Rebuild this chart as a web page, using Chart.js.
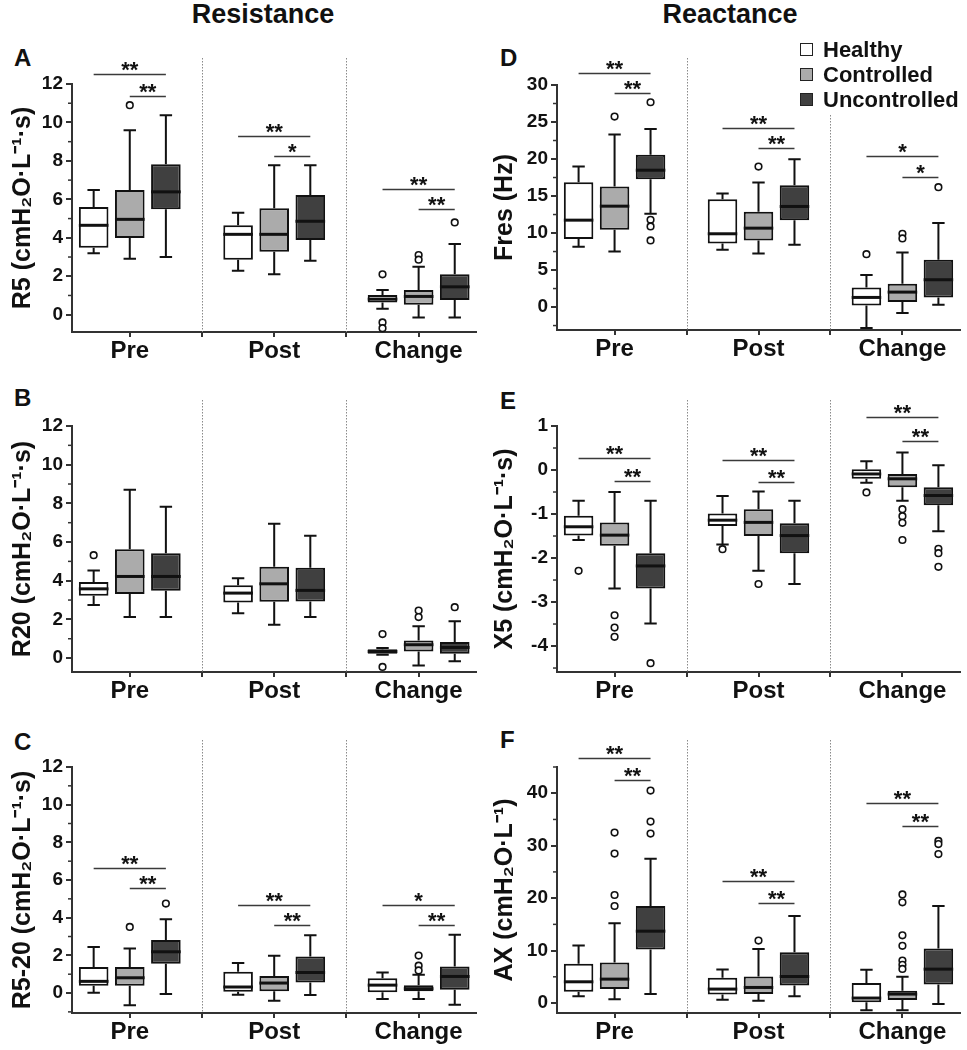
<!DOCTYPE html>
<html>
<head>
<meta charset="utf-8">
<script src="https://cdn.jsdelivr.net/npm/chart.js@4.4.0/dist/chart.umd.min.js"></script>
<style>
  body { margin: 0; background: #fff; font-family: "Liberation Sans", Arial, sans-serif; color: #111; }
  #page { position: relative; width: 967px; height: 1050px; overflow: hidden; }
  canvas { position: absolute; }
  .head { position: absolute; top: 1px; width: 240px; text-align: center; font-weight: bold; font-size: 27px; line-height: 27px; }
  .letter { position: absolute; font-weight: bold; font-size: 24px; line-height: 24px; }
  .leg { position: absolute; left: 800px; font-weight: bold; font-size: 22px; line-height: 22px; }
  .leg span { position: absolute; left: 0; top: 4px; width: 11px; height: 11px; border: 1.5px solid #222; }
  .leg b { position: absolute; left: 23px; top: 0; white-space: nowrap; }
</style>
</head>
<body>
<div id="page">
  <div class="head" style="left:143px">Resistance</div>
  <div class="head" style="left:610px">Reactance</div>

  <div class="letter" style="left:14px;top:46px">A</div>
  <div class="letter" style="left:14px;top:386px">B</div>
  <div class="letter" style="left:14px;top:730px">C</div>
  <div class="letter" style="left:500px;top:46px">D</div>
  <div class="letter" style="left:500px;top:389px">E</div>
  <div class="letter" style="left:500px;top:728px">F</div>

  <canvas id="chartA" width="482" height="330" style="left:0;top:40px"></canvas>
  <canvas id="chartB" width="482" height="330" style="left:0;top:380px"></canvas>
  <canvas id="chartC" width="482" height="329" style="left:0;top:720px"></canvas>
  <canvas id="chartD" width="485" height="328" style="left:482px;top:40px"></canvas>
  <canvas id="chartE" width="485" height="330" style="left:482px;top:380px"></canvas>
  <canvas id="chartF" width="485" height="329" style="left:482px;top:720px"></canvas>

  <div class="leg" style="top:39px"><span style="background:#ffffff"></span><b>Healthy</b></div>
  <div class="leg" style="top:64px"><span style="background:#ababab"></span><b>Controlled</b></div>
  <div class="leg" style="top:89px"><span style="background:#404040"></span><b>Uncontrolled</b></div>
</div>
<script>
// ---- data ----
const phases = ['Pre', 'Post', 'Change'];
const groups = ['Healthy', 'Controlled', 'Uncontrolled'];
const groupFills = ['#ffffff', '#ababab', '#404040'];
const groupOffsets = [-0.25, 0, 0.25];

// each row: [lower whisker, Q1, median, Q3, upper whisker] for Pre, Post, Change
const r5Healthy = [[3.2, 3.48, 4.65, 5.6, 6.49], [2.29, 2.86, 4.18, 4.65, 5.3], [0.31, 0.64, 0.81, 1.02, 1.29]];
const r5Controlled = [[2.91, 3.99, 4.96, 6.49, 9.6], [2.1, 3.27, 4.18, 5.54, 7.78], [-0.15, 0.52, 0.95, 1.29, 2.5]];
const r5Uncontrolled = [[3.0, 5.49, 6.39, 7.83, 10.38], [2.81, 3.89, 4.86, 6.22, 7.78], [-0.15, 0.77, 1.45, 2.1, 3.68]];
// outliers: [phase, group, value]
const r5Outliers = [[0, 1, 10.9], [2, 0, 2.1], [2, 0, -0.4], [2, 0, -0.7], [2, 1, 3.1], [2, 1, 2.86], [2, 2, 4.8]];
// significance bars: [phase, from group, to group, height, label]
const r5Sig = [[0, 0, 2, 12.5, '**'], [0, 1, 2, 11.4, '**'], [1, 0, 2, 9.3, '**'], [1, 1, 2, 8.26, '*'], [2, 0, 2, 6.55, '**'], [2, 1, 2, 5.5, '**']];

const r20Healthy = [[2.74, 3.22, 3.58, 3.93, 4.53], [2.32, 2.88, 3.36, 3.77, 4.13], [0.17, 0.22, 0.34, 0.46, 0.52]];
const r20Controlled = [[2.13, 3.31, 4.22, 5.63, 8.71], [1.72, 2.91, 3.84, 4.72, 6.94], [-0.38, 0.34, 0.69, 0.91, 1.64]];
const r20Uncontrolled = [[2.13, 3.48, 4.22, 5.42, 7.82], [2.13, 2.93, 3.5, 4.67, 6.32], [-0.17, 0.22, 0.55, 0.83, 1.91]];
const r20Outliers = [[0, 0, 5.32], [2, 0, 1.24], [2, 0, -0.46], [2, 1, 2.46], [2, 1, 2.12], [2, 2, 2.63]];
const r20Sig = [];

const r520Healthy = [[0.02, 0.39, 0.62, 1.38, 2.45], [-0.09, 0.07, 0.32, 1.13, 1.59], [-0.32, 0.04, 0.42, 0.79, 1.09]];
const r520Controlled = [[-0.65, 0.39, 0.81, 1.38, 2.36], [-0.41, 0.09, 0.53, 0.9, 1.98], [-0.32, 0.09, 0.23, 0.41, 0.97]];
const r520Uncontrolled = [[-0.05, 1.55, 2.19, 2.82, 3.92], [-0.11, 0.56, 1.09, 1.94, 3.07], [-0.62, 0.18, 0.88, 1.41, 3.09]];
const r520Outliers = [[0, 1, 3.51], [0, 2, 4.75], [2, 1, 1.99], [2, 1, 1.45], [2, 1, 1.2]];
const r520Sig = [[0, 0, 2, 6.62, '**'], [0, 1, 2, 5.58, '**'], [1, 0, 2, 4.66, '**'], [1, 1, 2, 3.6, '**'], [2, 0, 2, 4.68, '*'], [2, 1, 2, 3.62, '**']];

const fresHealthy = [[8.14, 9.18, 11.74, 16.87, 18.98], [7.74, 8.59, 9.9, 14.57, 15.34], [-2.83, 0.22, 1.3, 2.65, 4.32]];
const fresControlled = [[7.51, 10.44, 13.63, 16.28, 23.3], [7.24, 9.0, 10.66, 12.87, 16.82], [-0.81, 0.67, 2.02, 3.15, 7.38]];
const fresUncontrolled = [[12.6, 17.27, 18.49, 20.56, 24.07], [8.41, 11.74, 13.59, 16.46, 19.97], [0.31, 1.3, 3.69, 6.39, 11.34]];
const fresOutliers = [[0, 1, 25.73], [0, 2, 27.67], [0, 2, 11.79], [0, 2, 10.89], [0, 2, 9.0], [1, 1, 18.98], [2, 0, 7.15], [2, 1, 9.9], [2, 1, 9.27], [2, 2, 16.19]];
const fresSig = [[0, 0, 2, 31.67, '**'], [0, 1, 2, 28.88, '**'], [1, 0, 2, 24.25, '**'], [1, 1, 2, 21.46, '**'], [2, 0, 2, 20.47, '*'], [2, 1, 2, 17.59, '*']];

const x5Healthy = [[-1.59, -1.49, -1.29, -1.04, -0.7], [-1.69, -1.27, -1.14, -0.99, -0.59], [-0.29, -0.2, -0.09, 0.02, 0.2]];
const x5Controlled = [[-2.69, -1.72, -1.48, -1.19, -0.5], [-2.29, -1.5, -1.19, -0.89, -0.49], [-0.7, -0.39, -0.2, -0.09, 0.4]];
const x5Uncontrolled = [[-3.49, -2.69, -2.18, -1.89, -0.7], [-2.59, -1.89, -1.49, -1.21, -0.7], [-1.39, -0.8, -0.58, -0.39, 0.11]];
const x5Outliers = [[0, 0, -2.29], [0, 1, -3.3], [0, 1, -3.58], [0, 1, -3.79], [0, 2, -4.39], [1, 0, -1.8], [1, 1, -2.59],
  [2, 0, -0.51], [2, 1, -0.89], [2, 1, -1.05], [2, 1, -1.2], [2, 1, -1.59], [2, 2, -1.79], [2, 2, -1.89], [2, 2, -2.2]];
const x5Sig = [[0, 0, 2, 0.27, '**'], [0, 1, 2, -0.24, '**'], [1, 0, 2, 0.23, '**'], [1, 1, 2, -0.28, '**'], [2, 0, 2, 1.2, '**'], [2, 1, 2, 0.66, '**']];

const axHealthy = [[1.27, 2.15, 4.05, 7.47, 10.95], [0.63, 1.65, 2.66, 4.81, 6.39], [-1.39, 0.13, 0.95, 3.8, 6.33]];
const axControlled = [[0.7, 2.66, 4.56, 7.72, 15.2], [0.44, 1.71, 2.97, 5.06, 10.3], [-1.39, 0.57, 1.71, 2.34, 5.0]];
const axUncontrolled = [[1.71, 10.2, 13.7, 18.5, 27.5], [1.27, 3.35, 5.06, 9.68, 16.6], [-0.19, 3.54, 6.46, 10.4, 18.5]];
const axOutliers = [[0, 1, 32.5], [0, 1, 28.5], [0, 1, 20.6], [0, 1, 18.5], [0, 2, 40.5], [0, 2, 34.6], [0, 2, 32.3], [1, 1, 11.9],
  [2, 1, 20.7], [2, 1, 19.2], [2, 1, 12.9], [2, 1, 10.9], [2, 1, 8.1], [2, 1, 7.3], [2, 1, 6.5], [2, 2, 30.9], [2, 2, 30.3], [2, 2, 28.4]];
const axSig = [[0, 0, 2, 46.7, '**'], [0, 1, 2, 42.5, '**'], [1, 0, 2, 23.3, '**'], [1, 1, 2, 19.0, '**'], [2, 0, 2, 38.2, '**'], [2, 1, 2, 33.8, '**']];

// y tick labels and axis ranges
const resistTicks = [0, 2, 4, 6, 8, 10, 12];
const fresTicks = [0, 5, 10, 15, 20, 25, 30];
const x5Ticks = [-4, -3, -2, -1, 0, 1];
const axTicks = [0, 10, 20, 30, 40];

Chart.defaults.font.family = '"Liberation Sans", Arial, sans-serif';
Chart.defaults.color = '#111';

const FONT = '"Liberation Sans", Arial, sans-serif';

// whiskers, medians, minor ticks, separators and significance bars
function boxExtras(cfg) {
    return {
        id: 'boxExtras',
        beforeDatasetsDraw(chart) {
            const { ctx, chartArea, scales: { x, y } } = chart;
            ctx.save();
            // dotted separators between Pre / Post / Change
            ctx.strokeStyle = '#8a8a8a';
            ctx.lineWidth = 1;
            ctx.setLineDash([1.5, 1.5]);
            [1.5, 2.5].forEach((v, i) => {
                const px = Math.round(x.getPixelForValue(v)) + 0.5;
                ctx.beginPath();
                ctx.moveTo(px, chartArea.top + cfg.sepStart[i]);
                ctx.lineTo(px, chartArea.bottom);
                ctx.stroke();
            });
            ctx.setLineDash([]);
            // minor y ticks
            ctx.strokeStyle = '#333';
            ctx.lineWidth = 1.5;
            const start = Math.ceil(y.min / cfg.minor - 1e-9) * cfg.minor;
            for (let v = start; v <= y.max + 1e-9; v += cfg.minor) {
                if (cfg.ticks.some(t => Math.abs(t - v) < 1e-6)) continue;
                const py = y.getPixelForValue(v);
                ctx.beginPath();
                ctx.moveTo(chartArea.left - 4, py);
                ctx.lineTo(chartArea.left, py);
                ctx.stroke();
            }
            ctx.restore();
        },
        afterDatasetsDraw(chart) {
            const { ctx, scales: { y } } = chart;
            ctx.save();
            ctx.strokeStyle = '#111';
            cfg.stats.forEach((rows, k) => {
                const meta = chart.getDatasetMeta(k);
                rows.forEach((s, i) => {
                    const el = meta.data[i];
                    const cx = el.x;
                    const cap = el.width * 0.42;
                    const [lo, q1, med, q3, hi] = s.map(v => y.getPixelForValue(v));
                    ctx.lineWidth = 2;
                    ctx.beginPath();
                    ctx.moveTo(cx, q3); ctx.lineTo(cx, hi);
                    ctx.moveTo(cx - cap / 2, hi); ctx.lineTo(cx + cap / 2, hi);
                    ctx.moveTo(cx, q1); ctx.lineTo(cx, lo);
                    ctx.moveTo(cx - cap / 2, lo); ctx.lineTo(cx + cap / 2, lo);
                    ctx.stroke();
                    ctx.lineWidth = 3;
                    ctx.beginPath();
                    ctx.moveTo(cx - el.width / 2, med); ctx.lineTo(cx + el.width / 2, med);
                    ctx.stroke();
                });
            });
            ctx.restore();
        },
        afterDraw(chart) {
            const { ctx, scales: { y } } = chart;
            ctx.save();
            ctx.strokeStyle = '#3a3a3a';
            ctx.fillStyle = '#111';
            ctx.lineWidth = 1.5;
            ctx.font = 'bold 22px ' + FONT;
            ctx.textAlign = 'center';
            ctx.textBaseline = 'alphabetic';
            cfg.sig.forEach(([p, a, b, v, label]) => {
                const xa = chart.getDatasetMeta(a).data[p].x;
                const xb = chart.getDatasetMeta(b).data[p].x;
                const py = Math.round(y.getPixelForValue(v)) + 0.5;
                ctx.beginPath();
                ctx.moveTo(xa, py); ctx.lineTo(xb, py);
                ctx.stroke();
                ctx.fillText(label, (xa + xb) / 2, py + 2);
            });
            ctx.restore();
        }
    };
}

function makePanel(id, cfg) {
    const boxSets = cfg.stats.map((rows, k) => ({
        type: 'bar',
        label: groups[k],
        data: rows.map((s, p) => ({ x: p + 1 + groupOffsets[k], y: [s[1], s[3]] })),
        backgroundColor: groupFills[k],
        borderColor: '#111',
        borderWidth: 2,
        borderSkipped: false,
        grouped: false,
        categoryPercentage: 1,
        barPercentage: 0.82
    }));
    const outlierSet = {
        type: 'scatter',
        label: 'Outliers',
        data: cfg.outliers.map(([p, g, v]) => ({ x: p + 1 + groupOffsets[g], y: v })),
        pointRadius: 3.3,
        pointBorderWidth: 1.6,
        pointBorderColor: '#111',
        pointBackgroundColor: '#fff',
        clip: false
    };
    return new Chart(document.getElementById(id), {
        type: 'bar',
        data: { datasets: [...boxSets, outlierSet] },
        options: {
            responsive: false,
            animation: false,
            events: [],
            layout: { padding: { top: cfg.padTop, right: cfg.padRight, left: 0, bottom: 0 } },
            plugins: { legend: { display: false }, tooltip: { enabled: false } },
            scales: {
                x: {
                    type: 'linear',
                    min: 0.6,
                    max: 3.4,
                    offset: false,
                    afterBuildTicks: s => { s.ticks = [1, 1.5, 2, 2.5, 3].map(v => ({ value: v })); },
                    afterFit: s => { s.height = cfg.xHeight; },
                    border: { color: '#333', width: 2 },
                    grid: { offset: false, drawOnChartArea: false, tickLength: 5, color: '#333', lineWidth: 2 },
                    ticks: {
                        autoSkip: false, maxRotation: 0, padding: 0,
                        font: { size: 24, weight: 'bold' }, color: '#111',
                        callback: v => Number.isInteger(v) ? phases[v - 1] : ''
                    }
                },
                y: {
                    min: cfg.range[0],
                    max: cfg.range[1],
                    afterBuildTicks: s => { s.ticks = cfg.ticks.map(v => ({ value: v })); },
                    afterFit: s => { s.width = cfg.yWidth; },
                    border: { color: '#333', width: 2 },
                    grid: { drawOnChartArea: false, tickLength: 6, color: '#333', lineWidth: 2 },
                    ticks: { padding: 3, font: { size: 19, weight: 'bold' }, color: '#111', callback: v => String(v) },
                    title: { display: true, text: cfg.title, font: { size: 25, weight: 'bold' }, color: '#111', padding: { top: 8, bottom: 0 } }
                }
            }
        },
        plugins: [boxExtras(cfg)]
    });
}

document.addEventListener('DOMContentLoaded', () => {
    makePanel('chartA', {
        title: 'R5 (cmH₂O·L⁻¹·s)', stats: [r5Healthy, r5Controlled, r5Uncontrolled], outliers: r5Outliers, sig: r5Sig,
        ticks: resistTicks, range: [-0.9, 12], minor: 1, padTop: 44, padRight: 5, yWidth: 72, xHeight: 38, sepStart: [-26, -26]
    });
    makePanel('chartB', {
        title: 'R20 (cmH₂O·L⁻¹·s)', stats: [r20Healthy, r20Controlled, r20Uncontrolled], outliers: r20Outliers, sig: r20Sig,
        ticks: resistTicks, range: [-0.72, 12], minor: 1, padTop: 46, padRight: 5, yWidth: 72, xHeight: 38, sepStart: [-26, -26]
    });
    makePanel('chartC', {
        title: 'R5-20 (cmH₂O·L⁻¹·s)', stats: [r520Healthy, r520Controlled, r520Uncontrolled], outliers: r520Outliers, sig: r520Sig,
        ticks: resistTicks, range: [-1.06, 12], minor: 1, padTop: 47, padRight: 5, yWidth: 72, xHeight: 36, sepStart: [-27, -27]
    });
    makePanel('chartD', {
        title: 'Fres (Hz)', stats: [fresHealthy, fresControlled, fresUncontrolled], outliers: fresOutliers, sig: fresSig,
        ticks: fresTicks, range: [-3.1, 30], minor: 2.5, padTop: 45, padRight: 7, yWidth: 75, xHeight: 38, sepStart: [-27, 30]
    });
    makePanel('chartE', {
        title: 'X5 (cmH₂O·L⁻¹·s)', stats: [x5Healthy, x5Controlled, x5Uncontrolled], outliers: x5Outliers, sig: x5Sig,
        ticks: x5Ticks, range: [-4.59, 1], minor: 0.5, padTop: 46, padRight: 7, yWidth: 75, xHeight: 38, sepStart: [-26, -26]
    });
    makePanel('chartF', {
        title: 'AX (cmH₂O·L⁻¹)', stats: [axHealthy, axControlled, axUncontrolled], outliers: axOutliers, sig: axSig,
        ticks: axTicks, range: [-1.9, 45], minor: 5, padTop: 47, padRight: 7, yWidth: 75, xHeight: 36, sepStart: [-27, -27]
    });
});
</script>
</body>
</html>
